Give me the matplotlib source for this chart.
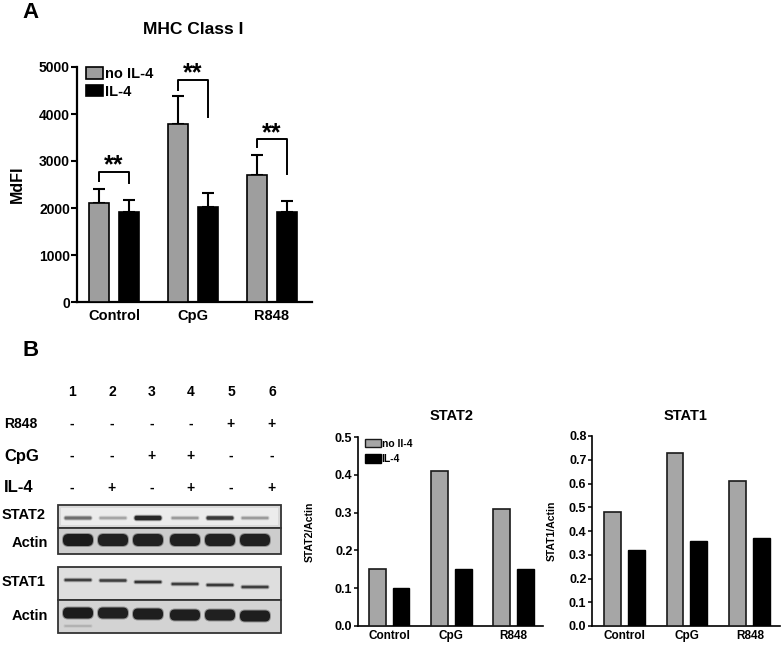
import matplotlib
matplotlib.use('Agg')
import matplotlib.pyplot as plt
from matplotlib.patches import Rectangle, FancyBboxPatch, Patch
import numpy as np

plt.rcParams['font.family'] = ['Liberation Sans', 'DejaVu Sans']
plt.rcParams['font.weight'] = 'bold'
plt.rcParams['axes.labelweight'] = 'bold'

# ---------------- data ----------------
groups = ['Control', 'CpG', 'R848']
series_a = ['no IL-4', 'IL-4']
mhc_no_il4 = [2105, 3780, 2700]
mhc_no_il4_err = [295, 605, 420]
mhc_il4 = [1905, 2030, 1912]
mhc_il4_err = [263, 285, 232]
sig_top = [2775, 4730, 3460]
sig_left_end = [2565, 4520, 3305]
sig_right_end = [2540, 3940, 2725]
sig_label = ['**', '**', '**']

lanes = ['1', '2', '3', '4', '5', '6']
row_names = ['R848', 'CpG', 'IL-4']
r848_row = ['-', '-', '-', '-', '+', '+']
cpg_row = ['-', '-', '+', '+', '-', '-']
il4_row = ['-', '+', '-', '+', '-', '+']
blot_names = ['STAT2', 'Actin', 'STAT1', 'Actin']
stat2_band = [0.62, 0.38, 0.92, 0.42, 0.85, 0.42]
actin1_band = [0.97, 0.95, 0.95, 0.95, 0.95, 0.95]
stat1_band = [0.82, 0.82, 0.86, 0.82, 0.84, 0.82]
actin2_band = [0.97, 0.95, 0.96, 0.96, 0.95, 0.96]

series_b = ['no Il-4', 'IL-4']
stat2_no_il4 = [0.15, 0.41, 0.31]
stat2_il4 = [0.10, 0.15, 0.15]
stat1_no_il4 = [0.48, 0.73, 0.61]
stat1_il4 = [0.32, 0.36, 0.37]

GRAY_A = '#9e9e9e'
GRAY_B = '#a6a6a6'

fig = plt.figure(figsize=(7.84, 6.46), dpi=100)
W, H = 784.0, 646.0

def fx(px):
    return px / W

def fy(py):
    return 1 - py / H

# ---------------- overlay (pixel coords) for blot & labels ----------------
ov = fig.add_axes([0, 0, 1, 1], zorder=-1)
ov.set_xlim(0, W)
ov.set_ylim(H, 0)
ov.axis('off')

ov.text(31, 13, 'A', fontsize=16, ha='center', va='center', fontweight='bold')
ov.text(31, 350, 'B', fontsize=16, ha='center', va='center', fontweight='bold')
ov.text(193, 30, 'MHC Class I', fontsize=12.5, ha='center', va='center', fontweight='bold')
ov.text(452, 416, 'STAT2', fontsize=10.5, ha='center', va='center', fontweight='bold')
ov.text(686, 416, 'STAT1', fontsize=10.5, ha='center', va='center', fontweight='bold')

lane_x = [72, 112, 152, 191, 231, 272]
for lx, lab in zip(lane_x, lanes):
    ov.text(lx, 392, lab, fontsize=10, ha='center', va='center', fontweight='bold')

row_y = [424, 456, 488]
row_fs = [10, 12, 12]
rows = [r848_row, cpg_row, il4_row]
for ry, name, fs, row in zip(row_y, row_names, row_fs, rows):
    ov.text(4, ry, name, fontsize=fs, ha='left', va='center', fontweight='bold')
    for lx, s in zip(lane_x, row):
        ov.text(lx, ry, s, fontsize=10, ha='center', va='center', fontweight='bold')

# blot boxes
box_y = [(505, 528), (528, 554), (567, 600), (600, 633)]
box_fill = ['#d9d9d9', '#cdcdcd', '#dedede', '#d3d3d3']
for (y0, y1), fc in zip(box_y, box_fill):
    ov.add_patch(Rectangle((58, y0), 223, y1 - y0, facecolor=fc,
                           edgecolor='#333333', lw=1.3))
ov.add_patch(Rectangle((61, 508), 217, 17, facecolor='#ececec', edgecolor='none'))

label_y = [515, 543, 582, 616]
for i, (ly, name) in enumerate(zip(label_y, blot_names)):
    if name == 'Actin':
        ov.text(48, ly, name, fontsize=10.5, ha='right', va='center', fontweight='bold')
    else:
        ov.text(2, ly, name, fontsize=10.5, ha='left', va='center', fontweight='bold')

band_x = [78, 113, 148, 185, 220, 255]
band_w = 27

def band(xc, yc, h, dark, w=band_w):
    g = 1 - dark * 0.92
    halo = FancyBboxPatch((xc - w / 2 - 1, yc - h / 2 - 1), w + 2, h + 2,
                          boxstyle='round,pad=0,rounding_size=%f' % ((h + 2) / 2.2),
                          facecolor=(g, g, g), edgecolor='none', alpha=0.35)
    core = FancyBboxPatch((xc - w / 2, yc - h / 2), w, h,
                          boxstyle='round,pad=0,rounding_size=%f' % (h / 2.2),
                          facecolor=(g, g, g), edgecolor='none')
    ov.add_patch(halo)
    ov.add_patch(core)

stat2_h = [3, 2.5, 4.5, 2.5, 3.5, 2.5]
for xc, d, h in zip(band_x, stat2_band, stat2_h):
    band(xc, 518, h, d)
for xc, d in zip(band_x, actin1_band):
    band(xc, 540, 12, d, w=30)
stat1_y = [580, 580.5, 582, 584, 585, 587]
for xc, d, yc in zip(band_x, stat1_band, stat1_y):
    band(xc, yc, 2.5, d)
actin2_y = [613, 613, 614, 615, 615, 616]
for xc, d, yc in zip(band_x, actin2_band, actin2_y):
    band(xc, yc, 11, d, w=30)
band(band_x[0], 626, 1.5, 0.35)

# ---------------- Panel A ----------------
axA = fig.add_axes([fx(77), fy(302), 235 / W, 235 / H])
x = np.arange(len(groups))
off, bw = 0.19, 0.254
axA.bar(x - off, mhc_no_il4, bw, color=GRAY_A, edgecolor='black', lw=1.2, zorder=3)
axA.bar(x + off, mhc_il4, bw, color='black', edgecolor='black', lw=1.2, zorder=3)
zeros = np.zeros(len(groups))
axA.errorbar(x - off, mhc_no_il4, yerr=[zeros, mhc_no_il4_err], fmt='none',
             ecolor='black', elinewidth=1.5, capsize=4, capthick=1.5, zorder=2)
axA.errorbar(x + off, mhc_il4, yerr=[zeros, mhc_il4_err], fmt='none',
             ecolor='black', elinewidth=1.5, capsize=4, capthick=1.5, zorder=2)
for i in range(len(groups)):
    xl, xr = x[i] - off, x[i] + off
    axA.plot([xl, xl, xr, xr], [sig_left_end[i], sig_top[i], sig_top[i], sig_right_end[i]],
             color='black', lw=1.4, clip_on=False)
    axA.annotate(sig_label[i], (x[i], sig_top[i]), xytext=(0, -0.5), textcoords='offset points',
                 ha='center', va='baseline', fontsize=18, fontweight='bold')
axA.set_xlim(-0.47, 2.51)
axA.set_ylim(0, 5000)
axA.set_yticks(np.arange(0, 5001, 1000))
axA.set_xticks(x)
axA.set_xticklabels(groups)
axA.spines['top'].set_visible(False)
axA.spines['right'].set_visible(False)
for s in ['left', 'bottom']:
    axA.spines[s].set_linewidth(1.6)
axA.tick_params(axis='x', length=0, labelsize=10.5, pad=5)
axA.tick_params(axis='y', length=4, width=1.5, labelsize=10, pad=1)
axA.set_ylabel('MdFI', fontsize=11.5, fontweight='bold')
axA.yaxis.set_label_coords(-0.222, 0.5)
hA = [Patch(facecolor=GRAY_A, edgecolor='black', lw=1.2),
      Patch(facecolor='black', edgecolor='black', lw=1.2)]
axA.legend(hA, series_a, loc='upper left', bbox_to_anchor=(0.04, 1.0), frameon=False,
           fontsize=10.5, handlelength=1.15, handleheight=0.85, handletextpad=0.12,
           labelspacing=0.25, borderpad=0, borderaxespad=0)

# ---------------- Panel B charts ----------------
def small_chart(rect, no_vals, il_vals, ymax, xlim, ylabel, ylab_x, legend=False):
    ax = fig.add_axes(rect)
    xb = np.arange(len(groups))
    o, w = 0.19, 0.27
    ax.bar(xb - o, no_vals, w, color=GRAY_B, edgecolor='#1a1a1a', lw=1.2, zorder=3)
    ax.bar(xb + o, il_vals, w, color='black', edgecolor='black', lw=1.0, zorder=3)
    ax.set_xlim(*xlim)
    ax.set_ylim(0, ymax)
    ax.set_yticks(np.round(np.arange(0, ymax + 1e-9, 0.1), 1))
    ax.yaxis.set_major_formatter(matplotlib.ticker.FormatStrFormatter('%.1f'))
    ax.set_xticks(xb)
    ax.set_xticklabels(groups)
    ax.spines['top'].set_visible(False)
    ax.spines['right'].set_visible(False)
    for s in ['left', 'bottom']:
        ax.spines[s].set_linewidth(1.2)
    ax.tick_params(axis='x', length=0, labelsize=8.5, pad=3)
    ax.tick_params(axis='y', length=3, width=1.1, labelsize=9, pad=1)
    ax.set_ylabel(ylabel, fontsize=7.5, fontweight='bold')
    ax.yaxis.set_label_coords(ylab_x, 0.5)
    if legend:
        hB = [Patch(facecolor=GRAY_B, edgecolor='#1a1a1a', lw=1.0),
              Patch(facecolor='black', edgecolor='black', lw=1.0)]
        ax.legend(hB, series_b, loc='upper left', bbox_to_anchor=(0.038, 0.99),
                  frameon=False, fontsize=7.5, handlelength=1.5, handleheight=0.85,
                  handletextpad=0.1, labelspacing=0.5, borderpad=0, borderaxespad=0)
    return ax

small_chart([fx(358), fy(626), 185 / W, 189 / H], stat2_no_il4, stat2_il4, 0.5,
            (-0.5, 2.47), 'STAT2/Actin', -0.235, legend=True)
small_chart([fx(592), fy(626), 188 / W, 190 / H], stat1_no_il4, stat1_il4, 0.8,
            (-0.51, 2.48), 'STAT1/Actin', -0.19)

fig.savefig('out.png', dpi=100)
